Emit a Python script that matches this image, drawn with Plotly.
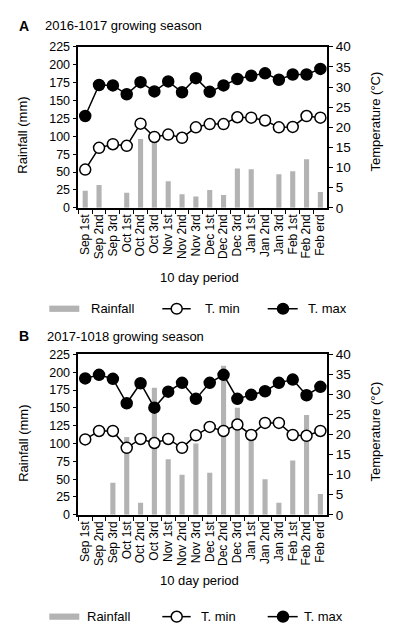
import plotly.graph_objects as go

# ---------------- data ----------------
periods = ["Sep 1st", "Sep 2nd", "Sep 3rd", "Oct 1st", "Oct 2nd", "Oct 3rd",
           "Nov 1st", "Nov 2nd", "Nov 3rd", "Dec 1st", "Dec 2nd", "Dec 3rd",
           "Jan 1st", "Jan 2nd", "Jan 3rd", "Feb 1st", "Feb 2nd", "Feb erd"]

rain_a = [24, 32, 0, 21, 96, 94, 37, 19, 16, 25, 18, 55, 54, 0, 47, 51, 68, 22]
tmin_a = [9.5, 14.9, 15.8, 15.4, 20.9, 17.6, 18.2, 17.4, 20.0, 20.8, 20.8, 22.5,
          22.4, 21.7, 20.0, 20.1, 22.8, 22.4]
tmax_a = [22.8, 30.5, 30.4, 28.2, 31.2, 28.9, 31.4, 28.7, 32.2, 28.8, 30.4, 32.0,
          32.8, 33.4, 31.8, 33.1, 33.1, 34.5]

rain_b = [0, 0, 45, 109, 17, 178, 78, 56, 100, 59, 209, 150, 106, 50, 17, 76, 140, 29]
tmin_b = [18.8, 20.9, 20.9, 16.7, 18.9, 17.9, 18.9, 16.7, 19.8, 21.9, 20.9, 22.5,
          19.9, 22.9, 22.9, 19.9, 19.7, 20.9]
tmax_b = [34.0, 34.9, 33.9, 27.8, 32.8, 26.7, 30.7, 32.9, 28.9, 32.9, 34.9, 28.9,
          29.9, 30.8, 32.9, 33.7, 29.8, 31.9]

panel_titles = ["2016-1017 growing season", "2017-1018 growing season"]
panel_letters = ["A", "B"]

# ---------------- style ----------------
W, H = 394, 639
FONT = "Liberation Sans, Arial, sans-serif"
BAR_COLOR = "#b3b3b3"


def px(x):
    return x / W


def py(y):
    return 1 - y / H


fig = go.Figure()

panels = [
    dict(rain=rain_a, tmin=tmin_a, tmax=tmax_a, xa="x", ya="y", ya2="y2"),
    dict(rain=rain_b, tmin=tmin_b, tmax=tmax_b, xa="x2", ya="y3", ya2="y4"),
]

for p in panels:
    fig.add_trace(go.Bar(x=periods, y=p["rain"], xaxis=p["xa"], yaxis=p["ya"],
                         marker=dict(color=BAR_COLOR, line=dict(width=0)),
                         width=0.37, showlegend=False, name="Rainfall"))
    fig.add_trace(go.Scatter(x=periods, y=p["tmin"], xaxis=p["xa"], yaxis=p["ya2"],
                             mode="lines+markers", name="T. min", showlegend=False,
                             line=dict(color="black", width=1.5),
                             marker=dict(symbol="circle", size=11, color="white",
                                         line=dict(color="black", width=1.5))))
    fig.add_trace(go.Scatter(x=periods, y=p["tmax"], xaxis=p["xa"], yaxis=p["ya2"],
                             mode="lines+markers", name="T. max", showlegend=False,
                             line=dict(color="black", width=1.5),
                             marker=dict(symbol="circle", size=11, color="black",
                                         line=dict(color="black", width=1.5))))

x_dom = [px(78.3), px(327.3)]
dom_a = [py(205.7), py(40.7)]
dom_b = [py(520.0), py(355.7)]

xaxis_common = dict(
    domain=x_dom, type="category", range=[-0.5, 17.5],
    tickmode="array", tickvals=periods, ticktext=periods,
    showline=True, linecolor="black", linewidth=1.5, mirror=True,
    ticks="outside", ticklen=4, tickcolor="black", tickwidth=1.2,
    tickson="boundaries", tickangle=-90,
    tickfont=dict(family=FONT, size=12, color="black"),
    showgrid=False, zeroline=False, fixedrange=True,
)
yleft_common = dict(
    range=[0, 225], dtick=25, tick0=0,
    showline=True, linecolor="black", linewidth=1.5,
    ticks="outside", ticklen=4, tickcolor="black", tickwidth=1.2,
    tickfont=dict(family=FONT, size=12.5, color="black"),
    showgrid=False, zeroline=False, fixedrange=True,
)
yright_common = dict(
    range=[0, 40], dtick=5, tick0=0, side="right",
    showline=True, linecolor="black", linewidth=1.5,
    ticks="outside", ticklen=4, tickcolor="black", tickwidth=1.2,
    tickfont=dict(family=FONT, size=13.5, color="black"),
    showgrid=False, zeroline=False, fixedrange=True,
)

fig.update_layout(
    xaxis=dict(xaxis_common, anchor="y"),
    yaxis=dict(yleft_common, domain=dom_a, anchor="x"),
    yaxis2=dict(yright_common, overlaying="y", anchor="x"),
    xaxis2=dict(xaxis_common, anchor="y3"),
    yaxis3=dict(yleft_common, domain=dom_b, anchor="x2"),
    yaxis4=dict(yright_common, overlaying="y3", anchor="x2"),
)

annotations = []
shapes = []

panel_geo = [
    dict(title_y=19, title_x=42.7, rain_y=131, temp_y=117.5, xl_y=276.7, leg_y=309,
         leg_text=[89.3, 202.7, 306]),
    dict(title_y=337, title_x=45, rain_y=446.5, temp_y=435, xl_y=587.7, leg_y=624.3,
         leg_text=[85, 199.3, 301.7]),
]

for letter, title, g in zip(panel_letters, panel_titles, panel_geo):
    annotations.append(dict(text="<b>%s</b>" % letter, x=px(17), y=py(g["title_y"]),
                            xref="paper", yref="paper", xanchor="left", yanchor="middle",
                            showarrow=False, font=dict(family=FONT, size=14, color="black")))
    annotations.append(dict(text=title, x=px(g["title_x"]), y=py(g["title_y"]),
                            xref="paper", yref="paper", xanchor="left", yanchor="middle",
                            showarrow=False, font=dict(family=FONT, size=13, color="black")))
    annotations.append(dict(text="Rainfall (mm)", x=px(22.8), y=py(g["rain_y"]),
                            xref="paper", yref="paper", xanchor="center", yanchor="middle",
                            textangle=-90, showarrow=False,
                            font=dict(family=FONT, size=13, color="black")))
    annotations.append(dict(text="Temperature (°C)", x=px(375.8), y=py(g["temp_y"]),
                            xref="paper", yref="paper", xanchor="center", yanchor="middle",
                            textangle=-90, showarrow=False,
                            font=dict(family=FONT, size=13, color="black")))
    annotations.append(dict(text="10 day period", x=px(199.5), y=py(g["xl_y"]),
                            xref="paper", yref="paper", xanchor="center", yanchor="middle",
                            showarrow=False, font=dict(family=FONT, size=13, color="black")))
    # legend
    ly = g["leg_y"]
    shapes.append(dict(type="rect", xref="paper", yref="paper",
                       x0=px(49.3), x1=px(79.3), y0=py(ly + 3.2), y1=py(ly - 3.2),
                       fillcolor=BAR_COLOR, line=dict(width=0)))
    for (x0, x1, xc, fill) in [(162.3, 190.7, 176.7, "white"), (267.7, 297.7, 283, "black")]:
        shapes.append(dict(type="line", xref="paper", yref="paper",
                           x0=px(x0), x1=px(x1), y0=py(ly), y1=py(ly),
                           line=dict(color="black", width=1.5)))
        shapes.append(dict(type="circle", xref="paper", yref="paper",
                           x0=px(xc - 5.5), x1=px(xc + 5.5), y0=py(ly + 5.5), y1=py(ly - 5.5),
                           fillcolor=fill, line=dict(color="black", width=1.5)))
    for txt, tx in zip(["Rainfall", "T. min", "T. max"], g["leg_text"]):
        annotations.append(dict(text=txt, x=px(tx), y=py(ly), xref="paper", yref="paper",
                                xanchor="left", yanchor="middle", showarrow=False,
                                font=dict(family=FONT, size=13, color="black")))

fig.update_layout(
    width=W, height=H, autosize=False,
    margin=dict(l=0, r=0, t=0, b=0, pad=0),
    paper_bgcolor="white", plot_bgcolor="white",
    showlegend=False, bargap=0.6,
    annotations=annotations, shapes=shapes,
    font=dict(family=FONT, color="black"),
)

fig.write_html("out.html", config={"displayModeBar": False},
               post_script="document.body.style.margin='0';document.body.style.overflow='hidden';")
